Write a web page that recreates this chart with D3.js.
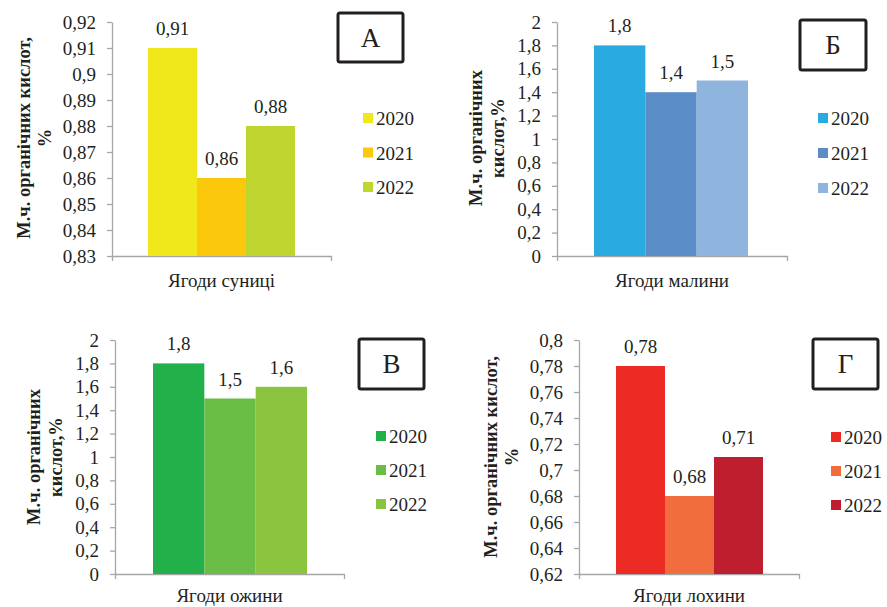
<!DOCTYPE html>
<html>
<head>
<meta charset="utf-8">
<script src="https://cdn.jsdelivr.net/npm/d3@7"></script>
<style>
  html, body { margin: 0; padding: 0; background: #fff; }
  svg { display: block; }
</style>
</head>
<body>
<svg id="chart" width="887" height="607"></svg>
<script>
// ---- data ----
const years = ["2020", "2021", "2022"];

const categoriesA = ["Ягоди суниці"];
const valuesA = [0.91, 0.86, 0.88];
const ticksA = [0.83, 0.84, 0.85, 0.86, 0.87, 0.88, 0.89, 0.90, 0.91, 0.92];

const categoriesB = ["Ягоди малини"];
const valuesB = [1.8, 1.4, 1.5];
const ticksB = [0, 0.2, 0.4, 0.6, 0.8, 1, 1.2, 1.4, 1.6, 1.8, 2];

const categoriesC = ["Ягоди ожини"];
const valuesC = [1.8, 1.5, 1.6];
const ticksC = [0, 0.2, 0.4, 0.6, 0.8, 1, 1.2, 1.4, 1.6, 1.8, 2];

const categoriesD = ["Ягоди лохини"];
const valuesD = [0.78, 0.68, 0.71];
const ticksD = [0.62, 0.64, 0.66, 0.68, 0.70, 0.72, 0.74, 0.76, 0.78, 0.80];

const colorsA = ["#f0e81a", "#fbc80b", "#bfd631"];
const colorsB = ["#29abe2", "#5a8cc6", "#8fb4dd"];
const colorsC = ["#22b04b", "#6abd45", "#8bc53f"];
const colorsD = ["#ec2b24", "#f26d3e", "#be1e2d"];

const yLabelA = ["М.ч. органічних кислот,", "%"];
const yLabelB = ["М.ч. органічних", "кислот,%"];
const yLabelC = ["М.ч. органічних", "кислот,%"];
const yLabelD = ["М.ч. органічних кислот,", "%"];

const letters = ["А", "Б", "В", "Г"];

// ---- drawing ----
const FONT = '"Liberation Serif", "Times New Roman", "Tinos", "FreeSerif", "DejaVu Serif"';
const INK = "#231f20";
const svg = d3.select("#chart");
const fmt = v => String(+v.toFixed(2)).replace(".", ",");

function txt(sel, size, weight) {
  sel.style("font-family", FONT).style("font-size", size + "px").style("fill", INK);
  if (weight) sel.style("font-weight", weight);
  return sel;
}

function panel(cfg) {
  const g = svg.append("g");
  const y = d3.scaleLinear().domain(cfg.domain).range([cfg.y1, cfg.y0]);
  const xBand = d3.scaleBand().domain(cfg.categories).range([cfg.x0, cfg.x1]);
  const inner = d3.scaleBand().domain(years).range([cfg.barStart, cfg.barEnd]).padding(0);

  // y axis
  const yAxis = d3.axisLeft(y).tickValues(cfg.ticks).tickFormat(fmt).tickSizeInner(5).tickSizeOuter(0).tickPadding(11);
  const ga = g.append("g").attr("transform", `translate(${cfg.x0},0)`).call(yAxis);
  ga.attr("font-family", null).attr("font-size", null);
  ga.selectAll("path, line").attr("stroke", "#a6a6a6").attr("stroke-width", 1.3);
  txt(ga.selectAll("text"), 19);

  // x axis
  const xAxis = d3.axisBottom(xBand).tickValues([]).tickSizeOuter(5);
  const gx = g.append("g").attr("transform", `translate(0,${cfg.y1})`).call(xAxis);
  gx.selectAll("path").attr("stroke", "#a6a6a6").attr("stroke-width", 1.3).attr("fill", "none");

  // category label
  txt(g.selectAll(".cat").data(cfg.categories).enter().append("text")
    .attr("x", d => xBand(d) + xBand.bandwidth() / 2)
    .attr("y", cfg.titleY)
    .attr("text-anchor", "middle")
    .text(d => d), 19);

  // bars
  g.selectAll(".bar").data(cfg.values).enter().append("rect")
    .attr("x", (d, i) => inner(years[i]))
    .attr("width", inner.bandwidth())
    .attr("y", d => y(d))
    .attr("height", d => cfg.y1 - y(d))
    .attr("fill", (d, i) => cfg.colors[i]);

  txt(g.selectAll(".val").data(cfg.values).enter().append("text")
    .attr("x", (d, i) => inner(years[i]) + inner.bandwidth() / 2)
    .attr("y", d => Math.round(y(d) - 13))
    .attr("text-anchor", "middle")
    .text(d => fmt(d)), 19);

  // y label (rotated)
  const yl = txt(g.append("text")
    .attr("transform", `translate(${cfg.ylX},${cfg.ylY}) rotate(-90)`)
    .attr("text-anchor", "middle"), 18.5, "bold");
  cfg.yLabel.forEach((t, i) => {
    yl.append("tspan").attr("x", 0).attr("dy", i === 0 ? 0 : cfg.ylGap).text(t);
  });

  // letter box
  g.append("rect")
    .attr("x", cfg.box[0]).attr("y", cfg.box[1])
    .attr("width", cfg.box[2]).attr("height", cfg.box[3])
    .attr("rx", 2)
    .attr("fill", "#fff").attr("stroke", INK).attr("stroke-width", 3);
  txt(g.append("text")
    .attr("x", cfg.box[0] + cfg.box[2] / 2)
    .attr("y", cfg.box[1] + cfg.box[3] / 2 + 9)
    .attr("text-anchor", "middle")
    .text(cfg.letter), 27);

  // legend
  years.forEach((yr, i) => {
    const ly = cfg.legY + i * cfg.legStep;
    g.append("rect").attr("x", cfg.legX).attr("y", ly - 5).attr("width", 10).attr("height", 10).attr("fill", cfg.colors[i]);
    txt(g.append("text").attr("x", cfg.legX + 13).attr("y", Math.round(ly + 7)).text(yr), 19);
  });
}

panel({
  categories: categoriesA, values: valuesA, ticks: ticksA, colors: colorsA, domain: [0.83, 0.92],
  x0: 112, x1: 331, y0: 22, y1: 256, barStart: 148, barEnd: 295, titleY: 287,
  yLabel: yLabelA, ylX: 30, ylY: 138, ylGap: 21,
  box: [338, 13, 65, 49], letter: letters[0],
  legX: 363, legY: 118, legStep: 34.5
});

panel({
  categories: categoriesB, values: valuesB, ticks: ticksB, colors: colorsB, domain: [0, 2],
  x0: 557, x1: 787, y0: 22, y1: 256, barStart: 594, barEnd: 748, titleY: 287,
  yLabel: yLabelB, ylX: 482, ylY: 138, ylGap: 22,
  box: [800, 20, 66, 50], letter: letters[1],
  legX: 818, legY: 118, legStep: 35
});

panel({
  categories: categoriesC, values: valuesC, ticks: ticksC, colors: colorsC, domain: [0, 2],
  x0: 115, x1: 344, y0: 340, y1: 574, barStart: 153, barEnd: 307, titleY: 602,
  yLabel: yLabelC, ylX: 40, ylY: 457, ylGap: 22,
  box: [359, 339, 65, 50], letter: letters[2],
  legX: 376, legY: 436, legStep: 34
});

panel({
  categories: categoriesD, values: valuesD, ticks: ticksD, colors: colorsD, domain: [0.62, 0.80],
  x0: 579, x1: 799, y0: 340, y1: 574, barStart: 616, barEnd: 763, titleY: 602,
  yLabel: yLabelD, ylX: 497, ylY: 457, ylGap: 21,
  box: [813, 339, 65, 50], letter: letters[3],
  legX: 831, legY: 437, legStep: 34
});
</script>
</body>
</html>
